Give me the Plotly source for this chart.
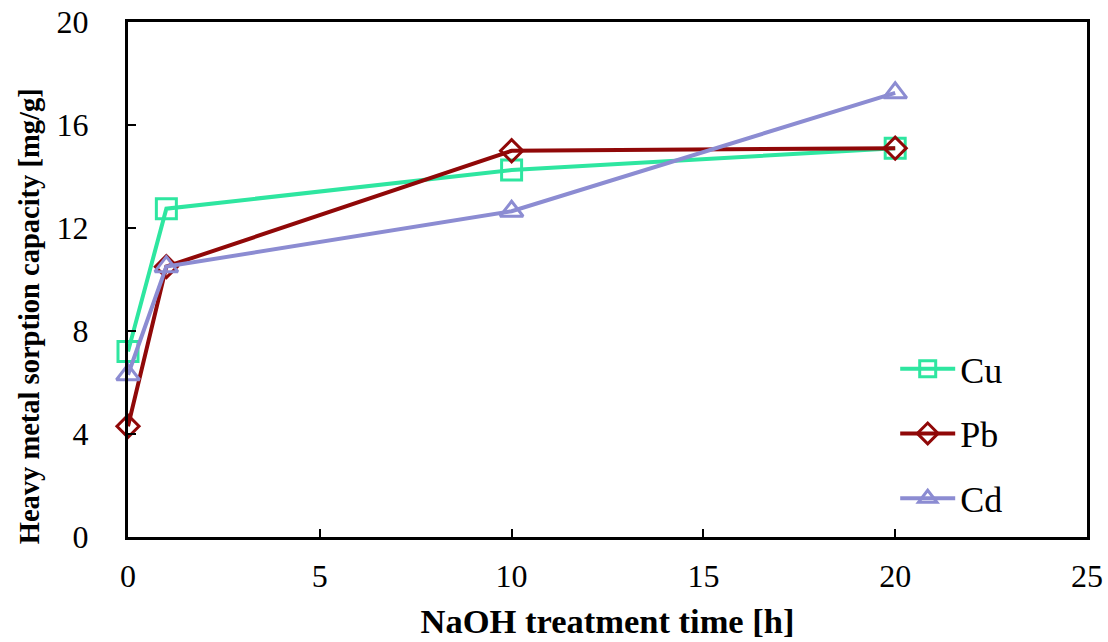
import plotly.graph_objects as go

time_h = [0, 1, 10, 20]
cu = [7.2, 12.75, 14.25, 15.1]
pb = [4.3, 10.5, 15.0, 15.1]
cd = [6.3, 10.5, 12.65, 17.25]

series_names = ["Cu", "Pb", "Cd"]
series_values = [cu, pb, cd]
colors = ["#2EE6A0", "#900808", "#8C8CD2"]
symbols = ["square-open", "diamond-open", "triangle-up-open"]
sizes = [20, 17, 20]

x_ticks = [0, 5, 10, 15, 20, 25]
y_ticks = [0, 4, 8, 12, 16, 20]

x_title = "NaOH treatment time [h]"
y_title = "Heavy metal sorption capacity [mg/g]"

fig = go.Figure()
for name, vals, col, sym, sz in zip(series_names, series_values, colors, symbols, sizes):
    fig.add_trace(go.Scatter(
        x=time_h, y=vals, name=name, legendgroup=name, mode="lines+markers", cliponaxis=False,
        line=dict(color=col, width=4),
        marker=dict(symbol=sym, size=sz, color=col, line=dict(color=col, width=3)),
    ))

font_serif = "Liberation Serif, Times New Roman, serif"
fig.update_layout(
    width=1108, height=642,
    margin=dict(l=128, r=21, t=22, b=105),
    paper_bgcolor="white", plot_bgcolor="white",
    font=dict(family=font_serif, color="black"),
    showlegend=True,
    legend=dict(x=0.80, y=0.385, xanchor="left", yanchor="top",
                font=dict(size=36, family=font_serif, color="black"),
                bgcolor="rgba(0,0,0,0)", tracegroupgap=15, itemwidth=55),
    annotations=[dict(
        text="<b>" + y_title + "</b>", textangle=-90,
        xref="paper", yref="paper", x=-0.103, y=0.429,
        xanchor="center", yanchor="middle", showarrow=False,
        font=dict(size=28.5, family=font_serif, color="black"),
    )],
)
fig.update_xaxes(
    range=[0, 25], tickvals=x_ticks, ticktext=[str(v) for v in x_ticks],
    showline=True, linecolor="black", linewidth=3, mirror=True,
    ticks="inside", ticklen=8, tickwidth=1.5, tickcolor="black",
    showgrid=False, zeroline=False, automargin=False, ticklabeloverflow="allow",
    tickfont=dict(size=32, family=font_serif), ticklabelstandoff=9,
    title=dict(text="<b>" + x_title + "</b>", font=dict(size=34.5, family=font_serif), standoff=16),
)
fig.update_yaxes(
    range=[0, 20], tickvals=y_ticks, ticktext=[str(v) for v in y_ticks],
    showline=True, linecolor="black", linewidth=3, mirror=True,
    ticks="inside", ticklen=8, tickwidth=1.5, tickcolor="black",
    showgrid=False, zeroline=False, automargin=False, ticklabeloverflow="allow",
    tickfont=dict(size=32, family=font_serif), ticklabelstandoff=30,
)
# remove the browser's default page margin so the figure fills the window exactly
fig.write_html("out.html", config={"displayModeBar": False},
               post_script="document.body.style.margin='0px';")
